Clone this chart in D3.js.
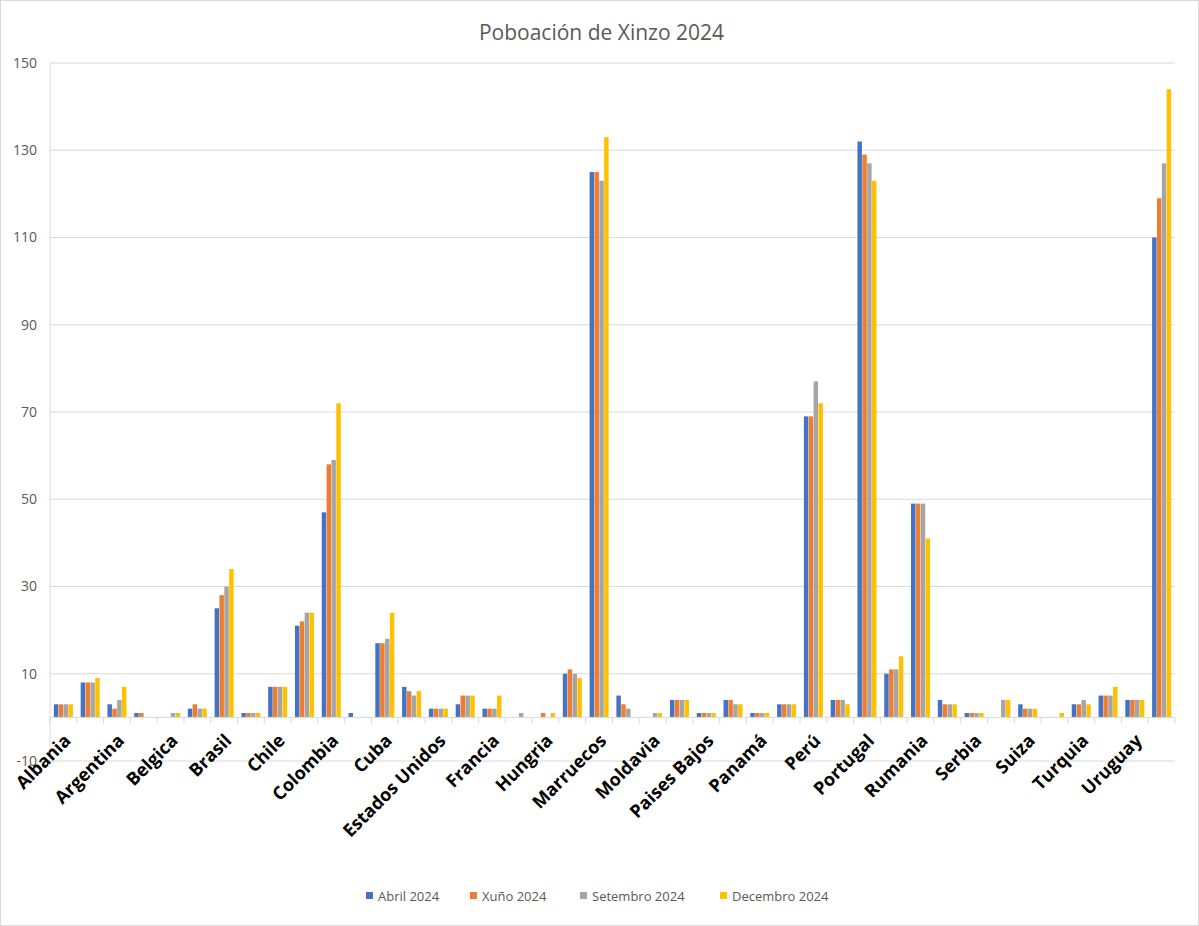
<!DOCTYPE html>
<html><head><meta charset="utf-8">
<script src="https://cdn.jsdelivr.net/npm/d3@7"></script>
<style>body{margin:0;background:#fff}svg{font-family:"Open Sans",sans-serif}</style>
</head><body><svg width="1199" height="926"></svg>
<script>
// categories (only every other one is labelled on the axis)
const countries = ["Albania","Alemania","Argentina","Austria","Belgica","Bolivia","Brasil","Bulgaria","Chile","China",
  "Colombia","Costa Rica","Cuba","Ecuador","Estados Unidos","Filipinas","Francia","Georgia","Hungria","Italia",
  "Marruecos","México","Moldavia","Nicaragua","Paises Bajos","Paraguay","Panamá","Polonia","Perú","Reino Unido",
  "Portugal","República Dominicana","Rumania","Rusia","Serbia","Senegal","Suiza","Sudáfrica","Turquia","Ucraína","Uruguay","Venezuela"];
const seriesNames = ["Abril 2024","Xuño 2024","Setembro 2024","Decembro 2024"];
const abril     = [3,8,3,1,0,2,25,1,7,21,47,1,17,7,2,3,2,0,0,10,125,5,0,4,1,4,1,3,69,4,132,10,49,4,1,0,3,0,3,5,4,110];
const xuno      = [3,8,2,1,0,3,28,1,7,22,58,0,17,6,2,5,2,0,1,11,125,3,0,4,1,4,1,3,69,4,129,11,49,3,1,0,2,0,3,5,4,119];
const setembro  = [3,8,4,0,1,2,30,1,7,24,59,0,18,5,2,5,2,1,0,10,123,2,1,4,1,3,1,3,77,4,127,11,49,3,1,4,2,0,4,5,4,127];
const decembro  = [3,9,7,0,1,2,34,1,7,24,72,0,24,6,2,5,5,0,1,9,133,0,1,4,1,3,1,3,72,3,123,14,41,3,1,4,2,1,3,7,4,144];
const yTicks = [-10,10,30,50,70,90,110,130,150];
const colors = ["#4472C4","#ED7D31","#A5A5A5","#FFC000"];
const series = [abril, xuno, setembro, decembro];

const svg = d3.select("svg");
const W = 1199, H = 926;
const margin = {left: 50, right: 1175, top: 63, bottom: 761};

svg.append("rect").attr("x",0.5).attr("y",0.5).attr("width",W-1).attr("height",H-1)
  .attr("fill","#fff").attr("stroke","#d9d9d9");

const x = d3.scaleBand().domain(countries).range([margin.left, margin.right]);
const xs = d3.scaleBand().domain(d3.range(4)).range([0, x.bandwidth()]).paddingInner(0.08).paddingOuter(0.8);
const y = d3.scaleLinear().domain([-10,150]).range([margin.bottom, margin.top]);

// gridlines
svg.append("g").selectAll("line").data(yTicks).join("line")
  .attr("x1", margin.left).attr("x2", margin.right)
  .attr("y1", d => y(d)).attr("y2", d => y(d))
  .attr("stroke","#d9d9d9");
svg.append("line").attr("x1",margin.left).attr("x2",margin.left)
  .attr("y1",margin.top).attr("y2",margin.bottom).attr("stroke","#d9d9d9");

// y labels
svg.append("g").selectAll("text").data(yTicks).join("text")
  .attr("x", margin.left - 13).attr("y", d => y(d)).attr("dy","0.35em")
  .attr("text-anchor","end").attr("font-size",14).attr("fill","#595959").text(d => d);

// bars
series.forEach((vals, s) => {
  svg.append("g").selectAll("rect").data(vals).join("rect")
    .attr("x", (d, i) => x(countries[i]) + xs(s))
    .attr("width", xs.bandwidth())
    .attr("y", d => y(Math.max(0, d)))
    .attr("height", d => Math.abs(y(d) - y(0)))
    .attr("fill", colors[s]);
});

// zero axis with category boundary ticks
svg.append("line").attr("x1",margin.left).attr("x2",margin.right)
  .attr("y1",y(0)).attr("y2",y(0)).attr("stroke","#d9d9d9");
svg.append("g").selectAll("line").data(countries.concat([null])).join("line")
  .attr("x1", (d,i) => margin.left + i * x.step()).attr("x2", (d,i) => margin.left + i * x.step())
  .attr("y1", y(0)).attr("y2", y(0) + 6).attr("stroke","#d9d9d9");

// category labels, every other category
svg.append("g").selectAll("text").data(countries.filter((d,i) => i % 2 === 0)).join("text")
  .attr("transform", d => `translate(${x(d) + x.bandwidth()/2 + 4},${y(0) + 20}) rotate(-45)`)
  .attr("text-anchor","end").attr("dy","0.35em")
  .attr("font-size",18).attr("font-weight","bold").attr("fill","#000").text(d => d);

// title
svg.append("text").attr("x", W/2 + 2).attr("y", 40).attr("text-anchor","middle")
  .attr("font-size",21).attr("fill","#595959").text("Poboación de Xinzo 2024");

// legend
const legX = [366, 470, 580, 720];
const leg = svg.append("g").selectAll("g").data(seriesNames).join("g")
  .attr("transform", (d,i) => `translate(${legX[i]},896)`);
leg.append("rect").attr("x",0).attr("y",-4).attr("width",7).attr("height",7).attr("fill",(d,i)=>colors[i]);
leg.append("text").attr("x",12).attr("y",0).attr("dy","0.35em").attr("font-size",13)
  .attr("fill","#595959").text(d => d);
</script></body></html>
